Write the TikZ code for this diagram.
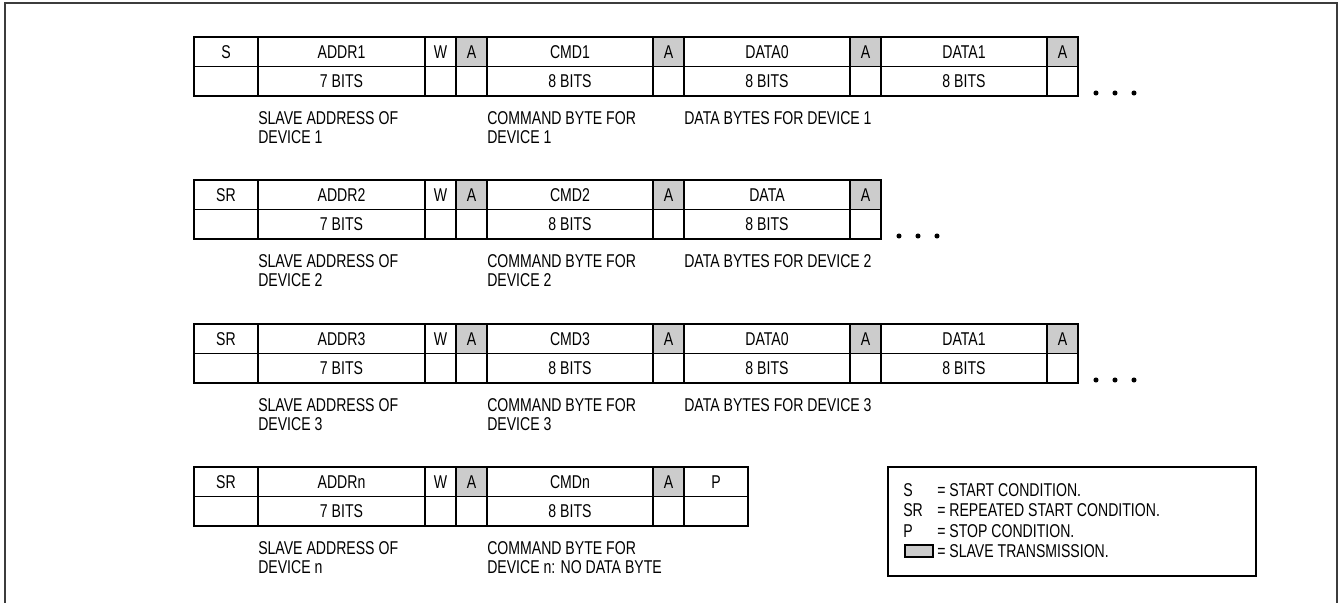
\documentclass[tikz,border=0pt]{standalone}
\usepackage{fontspec}
\setmainfont{Liberation Sans}[FakeStretch=0.76]
\definecolor{shade}{HTML}{CCCCCC}
\definecolor{framec}{HTML}{3C3C3C}
\tikzset{
  txt/.style={font=\fontsize{13.9pt}{14.25pt}\selectfont, inner sep=0pt},
  cell/.style={draw=black, line width=1.4pt, txt, text height=9.9pt, text depth=0pt, outer sep=0pt},
  lbl/.style={txt, align=left, anchor=north west},
  legtxt/.style={txt, anchor=base west},
  dotmark/.style={fill=black},
}
\newcommand\bitrow[3]{%
  \foreach \xa/\xb/\ta/\tb/\sh [count=\i] in {#3} {
    \node[cell, fill=\sh, minimum width={(\xb-\xa)*0.75pt}, minimum height={29.5*0.75pt}] (#1a\i) at ({(\xa+\xb)/2},{#2+14.75}) {\ta};
    \node[cell, minimum width={(\xb-\xa)*0.75pt}, minimum height={29.5*0.75pt}] (#1b\i) at ({(\xa+\xb)/2},{#2+44.25}) {\tb};
  }}
\begin{document}
\begin{tikzpicture}[x=0.75pt,y=-0.75pt]
\useasboundingbox (0,0) rectangle (1340,603);
% outer frame
\draw[framec, line width=1.5pt] (5,610) -- (5,3) -- (1337,3) -- (1337,610);

% row 1
\bitrow{r1}{37}{194/258/S/{}/none, 258/425/ADDR1/7 BITS/none, 425/456/W/{}/none, 456/487/A/{}/shade,
  487/653/CMD1/8 BITS/none, 653/684/A/{}/shade, 684/850/DATA0/8 BITS/none, 850/881/A/{}/shade,
  881/1047/DATA1/8 BITS/none, 1047/1078/A/{}/shade}
\node[lbl] (l1a) at (258,111) {SLAVE ADDRESS OF\\DEVICE 1};
\node[lbl] (l1b) at (487,111) {COMMAND BYTE FOR\\DEVICE 1};
\node[lbl] (l1c) at (684,111) {DATA BYTES FOR DEVICE 1};
\foreach \dx in {1096,1115,1134} \fill[dotmark] (\dx,93) circle[radius=1.9pt];

% row 2
\bitrow{r2}{180}{194/258/SR/{}/none, 258/425/ADDR2/7 BITS/none, 425/456/W/{}/none, 456/487/A/{}/shade,
  487/653/CMD2/8 BITS/none, 653/684/A/{}/shade, 684/850/DATA/8 BITS/none, 850/881/A/{}/shade}
\node[lbl] (l2a) at (258,254) {SLAVE ADDRESS OF\\DEVICE 2};
\node[lbl] (l2b) at (487,254) {COMMAND BYTE FOR\\DEVICE 2};
\node[lbl] (l2c) at (684,254) {DATA BYTES FOR DEVICE 2};
\foreach \dx in {899,918,937} \fill[dotmark] (\dx,236) circle[radius=1.9pt];

% row 3
\bitrow{r3}{324}{194/258/SR/{}/none, 258/425/ADDR3/7 BITS/none, 425/456/W/{}/none, 456/487/A/{}/shade,
  487/653/CMD3/8 BITS/none, 653/684/A/{}/shade, 684/850/DATA0/8 BITS/none, 850/881/A/{}/shade,
  881/1047/DATA1/8 BITS/none, 1047/1078/A/{}/shade}
\node[lbl] (l3a) at (258,398) {SLAVE ADDRESS OF\\DEVICE 3};
\node[lbl] (l3b) at (487,398) {COMMAND BYTE FOR\\DEVICE 3};
\node[lbl] (l3c) at (684,398) {DATA BYTES FOR DEVICE 3};
\foreach \dx in {1096,1115,1134} \fill[dotmark] (\dx,380) circle[radius=1.9pt];

% row 4
\bitrow{r4}{467}{194/258/SR/{}/none, 258/425/ADDRn/7 BITS/none, 425/456/W/{}/none, 456/487/A/{}/shade,
  487/653/CMDn/8 BITS/none, 653/684/A/{}/shade, 684/748/P/{}/none}
\node[lbl] (l4a) at (258,541) {SLAVE ADDRESS OF\\DEVICE n};
\node[lbl] (l4b) at (487,541) {COMMAND BYTE FOR\\DEVICE n: NO DATA BYTE};

% legend
\node[draw=black, line width=1.4pt, minimum width={368*0.75pt}, minimum height={109*0.75pt}, inner sep=0pt] (legend) at (1072,521.5) {};
\node[legtxt] (kS) at (903,496) {S};
\node[legtxt] (dS) at (937,496) {= START CONDITION.};
\node[legtxt] (kSR) at (903,516.5) {SR};
\node[legtxt] (dSR) at (937,516.5) {= REPEATED START CONDITION.};
\node[legtxt] (kP) at (903,537) {P};
\node[legtxt] (dP) at (937,537) {= STOP CONDITION.};
\node[draw=black, line width=1.2pt, fill=shade, minimum width={28*0.75pt}, minimum height={12*0.75pt}, inner sep=0pt] (kA) at (919,551) {};
\node[legtxt] (dA) at (937,557) {= SLAVE TRANSMISSION.};
\end{tikzpicture}
\end{document}
